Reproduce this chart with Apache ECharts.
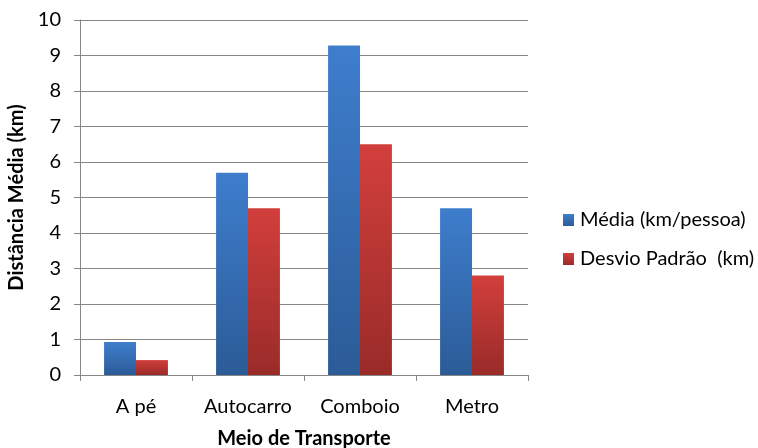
<!DOCTYPE html>
<html>
<head>
<meta charset="utf-8">
<script src="https://cdn.jsdelivr.net/npm/echarts@6/dist/echarts.min.js"></script>
<style>
  html, body { margin: 0; padding: 0; background: #ffffff; }
  #chart { width: 758px; height: 448px; }
</style>
</head>
<body>
<div id="chart"></div>
<script>
// Distância média percorrida por meio de transporte
const categories = ['A pé', 'Autocarro', 'Comboio', 'Metro'];
const mediaValues = [0.93, 5.7, 9.28, 4.7];
const desvioValues = [0.42, 4.7, 6.5, 2.8];
const yTicks = [0, 1, 2, 3, 4, 5, 6, 7, 8, 9, 10];

const seriesNames = ['Média (km/pessoa)', 'Desvio Padrão  (km)'];
const FONT = 'Lato, "Open Sans", sans-serif';
const GRID_GRAY = '#868686';

function vGrad(top, bottom) {
  return new echarts.graphic.LinearGradient(0, 0, 0, 1, [
    { offset: 0, color: top },
    { offset: 1, color: bottom }
  ]);
}

const chart = echarts.init(document.getElementById('chart'), null, { renderer: 'canvas' });

chart.setOption({
  animation: false,
  backgroundColor: '#ffffff',
  textStyle: { fontFamily: FONT },
  grid: { left: 80, right: 230, top: 20, bottom: 73, containLabel: false, outerBoundsMode: 'none' },
  legend: {
    orient: 'vertical',
    left: 558,
    top: 204,
    itemWidth: 11,
    itemHeight: 12,
    itemGap: 17,
    icon: 'rect',
    textStyle: { fontFamily: FONT, fontSize: 20, color: '#000', lineHeight: 22, padding: [0, 0, 0, 1] },
    data: seriesNames
  },
  xAxis: {
    type: 'category',
    data: categories,
    name: 'Meio de Transporte',
    nameLocation: 'middle',
    nameGap: 54,
    nameTextStyle: { fontFamily: FONT, fontSize: 20, fontWeight: 'bold', color: '#000' },
    axisLine: { show: true, lineStyle: { color: GRID_GRAY, width: 1 } },
    axisTick: { show: true, length: 6, lineStyle: { color: GRID_GRAY } },
    axisLabel: { interval: 0, fontFamily: FONT, fontSize: 20, color: '#000', margin: 22 }
  },
  yAxis: {
    type: 'value',
    min: 0,
    max: 10,
    interval: 1,
    name: 'Distância Média (km)',
    nameLocation: 'middle',
    nameGap: 51,
    nameRotate: 90,
    nameTextStyle: { fontFamily: FONT, fontSize: 20, fontWeight: 'bold', color: '#000' },
    axisLine: { show: true, lineStyle: { color: GRID_GRAY, width: 1 } },
    axisTick: { show: true, length: 6, lineStyle: { color: GRID_GRAY } },
    axisLabel: {
      fontFamily: FONT, fontSize: 20, color: '#000', margin: 19,
      formatter: function (v) { return yTicks.indexOf(v) >= 0 ? String(v) : ''; }
    },
    splitLine: { show: true, lineStyle: { color: GRID_GRAY, width: 1 } }
  },
  series: [
    {
      name: seriesNames[0],
      type: 'bar',
      data: mediaValues,
      barGap: '0%',
      barCategoryGap: '43%',
      itemStyle: { color: vGrad('#3e7ecd', '#2b5b97') }
    },
    {
      name: seriesNames[1],
      type: 'bar',
      data: desvioValues,
      barGap: '0%',
      barCategoryGap: '43%',
      itemStyle: { color: vGrad('#d23f3c', '#992b29') }
    }
  ]
});
</script>
</body>
</html>
